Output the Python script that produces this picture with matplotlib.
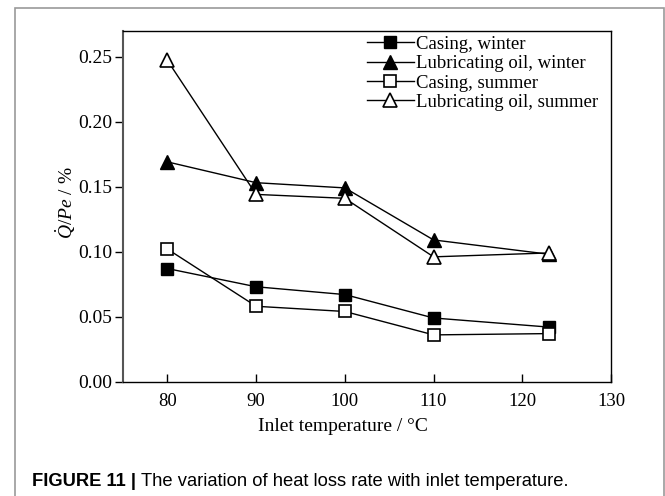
import numpy as np
import matplotlib
matplotlib.use('Agg')
import matplotlib.pyplot as plt
from matplotlib.patches import Rectangle

plt.rcParams['font.family'] = 'Liberation Serif'
plt.rcParams['mathtext.fontset'] = 'custom'
plt.rcParams['mathtext.rm'] = 'Liberation Serif'
plt.rcParams['mathtext.it'] = 'Liberation Serif:italic'

temps = [80, 90, 100, 110, 123]
casing_winter = [0.087, 0.073, 0.067, 0.049, 0.042]
oil_winter = [0.169, 0.153, 0.149, 0.109, 0.098]
casing_summer = [0.102, 0.058, 0.054, 0.036, 0.037]
oil_summer = [0.247, 0.144, 0.141, 0.096, 0.099]

xticks = [80, 90, 100, 110, 120, 130]
yticks = [0.00, 0.05, 0.10, 0.15, 0.20, 0.25]

fig = plt.figure(figsize=[6.65, 4.96], dpi=100)
ax = fig.add_axes([0.185, 0.2304, 0.7338, 0.7081])

ax.plot(temps, casing_winter, 'k-', marker='s', ms=8, mfc='k', mec='k', lw=1.0, label='Casing, winter')
ax.plot(temps, oil_winter, 'k-', marker='^', ms=10, mfc='k', mec='k', lw=1.0, label='Lubricating oil, winter')
ax.plot(temps, casing_summer, 'k-', marker='s', ms=8, mfc='w', mec='k', mew=1.2, lw=1.0, label='Casing, summer')
ax.plot(temps, oil_summer, 'k-', marker='^', ms=10, mfc='w', mec='k', mew=1.2, lw=1.0, label='Lubricating oil, summer')

ax.set_xlim(75, 130)
ax.set_ylim(0, 0.27)
ax.set_xticks(xticks)
ax.set_yticks(yticks)
ax.set_yticklabels(['{:.2f}'.format(v) for v in yticks])
ax.tick_params(axis='x', direction='in', length=6, width=1, labelsize=13.5, pad=8)
ax.tick_params(axis='y', direction='out', length=6, width=1, labelsize=14, pad=2)
for s in ax.spines.values():
    s.set_linewidth(1.0)
ax.spines['left'].set_color('#555555')
ax.spines['left'].set_linewidth(1.5)

ax.set_xlabel('Inlet temperature / \u00b0C', fontsize=14)
ax.xaxis.set_label_coords(0.451, -0.103)
ax.set_ylabel(r'$\dot{Q}/Pe$ / %', fontsize=14)
ax.yaxis.set_label_coords(-0.092, 0.51)

ax.legend(loc='upper left', bbox_to_anchor=(0.50, 0.985), frameon=False, fontsize=13.5,
          handlelength=2.5, handletextpad=0.1, labelspacing=0.12, borderpad=0, borderaxespad=0)

# outer panel frame
fig.patches.append(Rectangle((15 / 665., -0.05), (664 - 15) / 665., 1.05 - 8 / 496.,
                             transform=fig.transFigure, fill=False, ec='#9a9a9a', lw=1.2, clip_on=False))

r = fig.canvas.get_renderer()
t1 = fig.text(31.7 / 665., 1 - 481 / 496., 'FIGURE 11 |', family='Liberation Sans', weight='bold',
              fontsize=13.2, va='center')
bb = t1.get_window_extent(renderer=r)
fig.text((bb.x1 + 5) / 665., 1 - 481 / 496., 'The variation of heat loss rate with inlet temperature.',
         family='Liberation Sans', fontsize=13.2, va='center')

plt.savefig('out.png', dpi=100)
